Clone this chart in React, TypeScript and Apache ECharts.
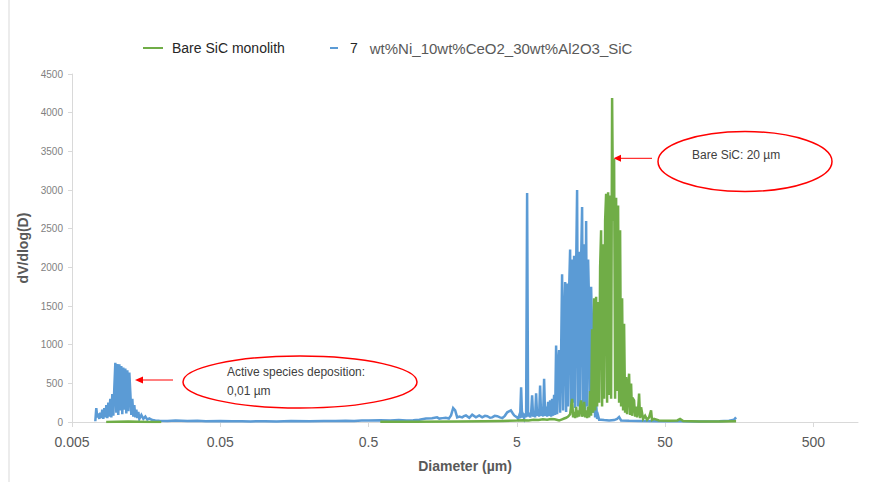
import { useEffect, useRef } from 'react';
import * as echarts from 'echarts';

const FONT = '"Liberation Sans", Arial, sans-serif';

const greenName = 'Bare SiC monolith';
const blueName = '7 wt%Ni_10wt%CeO2_30wt%Al2O3_SiC';

const xTickValues = [0.005, 0.05, 0.5, 5, 50, 500];
const xTickLabels = ['0.005', '0.05', '0.5', '5', '50', '500'];

// Blue series: [diameter (µm), dV/dlog(D)]
const bluePeak = [
  [0.00718, 10], [0.00729, 180], [0.00741, 60], [0.00752, 110], [0.00764, 40], [0.00776, 120],
  [0.00788, 50], [0.008, 160], [0.00813, 40], [0.00826, 180], [0.00839, 60], [0.00852, 220],
  [0.00865, 50], [0.00879, 250], [0.00892, 70], [0.00906, 300], [0.00921, 60], [0.00935, 360],
  [0.0095, 80], [0.00964, 430], [0.0098, 765], [0.00995, 120], [0.01011, 750], [0.01026, 90],
  [0.01043, 745], [0.01059, 150], [0.01075, 725], [0.01092, 100], [0.01109, 705], [0.01127, 160],
  [0.01144, 690], [0.01162, 110], [0.01181, 670], [0.01199, 140], [0.01218, 640], [0.01237, 380],
  [0.01256, 90], [0.01276, 300], [0.01296, 70], [0.01316, 220], [0.01337, 60], [0.01358, 160],
  [0.01379, 50], [0.01401, 130], [0.01423, 40], [0.01468, 90], [0.01514, 40], [0.01562, 70],
  [0.01611, 30], [0.01662, 45], [0.01741, 25], [0.01824, 20], [0.01941, 15],
];
const blueFlat = [
  [0.022, 14], [0.025, 18], [0.03, 12], [0.035, 16], [0.04, 10], [0.05, 12], [0.06, 9], [0.07, 11],
  [0.08, 8], [0.1, 10], [0.12, 8], [0.15, 12], [0.2, 10], [0.25, 14], [0.3, 12], [0.35, 16],
  [0.4, 14], [0.45, 18], [0.5, 20], [0.6, 22], [0.7, 18], [0.8, 25], [0.9, 20], [1.0, 22],
  [1.1, 30], [1.22, 44], [1.34, 48], [1.45, 60], [1.5, 44], [1.58, 50], [1.66, 55], [1.74, 45],
  [1.8, 85], [1.86, 181], [1.92, 150], [1.98, 60], [2.05, 70], [2.14, 60], [2.2, 75], [2.27, 85],
  [2.39, 55], [2.5, 95], [2.65, 60], [2.79, 85], [2.92, 60], [3.05, 80], [3.16, 75], [3.3, 55],
  [3.41, 60], [3.55, 80], [3.69, 75], [3.85, 60], [3.99, 50], [4.15, 80], [4.31, 125], [4.56, 150],
  [4.7, 110], [4.8, 85],
];
const blueCluster = [
  [5.023, 60], [5.102, 40], [5.181, 80], [5.262, 50], [5.345, 450], [5.428, 60], [5.513, 90],
  [5.6, 50], [5.687, 110], [5.776, 60], [5.867, 2960], [5.958, 70], [6.052, 120], [6.146, 60],
  [6.243, 110], [6.34, 345], [6.439, 70], [6.54, 120], [6.643, 60], [6.746, 370], [6.852, 80],
  [6.959, 140], [7.068, 70], [7.179, 470], [7.291, 80], [7.405, 150], [7.521, 70], [7.639, 560],
  [7.758, 80], [7.88, 200], [8.003, 70], [8.128, 260], [8.256, 80], [8.385, 280], [8.516, 70],
  [8.649, 300], [8.785, 80], [8.922, 350], [9.062, 90], [9.204, 990], [9.348, 100], [9.494, 750],
  [9.643, 930], [9.794, 120], [9.947, 900], [10.1, 1910], [10.26, 150], [10.42, 1300], [10.59, 1810],
  [10.75, 130], [10.92, 1790], [11.09, 200], [11.26, 1700], [11.44, 2230], [11.62, 150], [11.8, 2100],
  [11.98, 250], [12.17, 2150], [12.36, 180], [12.56, 2000], [12.75, 3000], [12.95, 200], [13.16, 2200],
  [13.36, 150], [13.57, 2100], [13.78, 2780], [14.0, 220], [14.22, 2300], [14.44, 160], [14.67, 2600],
  [14.9, 200], [15.13, 2100], [15.37, 1500], [15.61, 150], [15.85, 1750], [16.1, 1200], [16.35, 120],
  [16.61, 410], [16.87, 60], [17.13, 240], [17.4, 40], [17.67, 80], [17.95, 30],
];
const blueTail = [
  [18.51, 30], [19.4, 25], [20.96, 20], [22.65, 25], [23.73, 40], [24.48, 65], [25.25, 20],
  [28.59, 15], [33.39, 12], [45.43, 10], [63.1, 10], [84.8, 8], [115.5, 10], [135, 15], [146, 30],
  [150.6, 60],
];

// Green series: [diameter (µm), dV/dlog(D)]
const greenLow = [
  [0.0085, 0], [0.01, 3], [0.012, 5], [0.014, 3], [0.0165, 0], [0.02, 0], [0.03, null],
  [0.6, 2], [0.8, 3], [1.0, 4], [2.0, 6], [3.0, 10], [4.0, 14], [5.0, 18], [5.5, 22], [6.0, 20],
  [6.5, 28], [7.0, 25], [7.5, 35], [8.0, 30], [8.5, 40], [9.0, 35], [9.643, 20],
];
const greenCluster = [
  [9.794, 25], [10.1, 35], [10.42, 45], [10.75, 55], [11.09, 70], [11.44, 100], [11.8, 300],
  [11.98, 60], [12.17, 130], [12.36, 50], [12.56, 195], [12.75, 60], [12.95, 150], [13.16, 70],
  [13.36, 200], [13.57, 280], [13.78, 70], [14.0, 100], [14.22, 260], [14.44, 60], [14.67, 150],
  [14.9, 50], [15.13, 200], [15.37, 60], [15.61, 400], [15.85, 80], [16.1, 1200], [16.35, 120],
  [16.61, 1600], [16.87, 150], [17.13, 1620], [17.4, 200], [17.67, 1550], [17.95, 250], [18.23, 2000],
  [18.51, 2480], [18.8, 200], [19.1, 2300], [19.4, 300], [19.7, 2600], [20.01, 2950], [20.32, 250],
  [20.64, 2970], [20.96, 350], [21.29, 2930], [21.62, 300], [21.96, 4190], [22.3, 2600], [22.65, 3400],
  [23.01, 300], [23.37, 2900], [23.73, 400], [24.1, 2800], [24.48, 250], [24.86, 2480], [25.25, 200],
  [25.65, 1600], [26.05, 150], [26.45, 1270], [26.87, 120], [27.29, 580], [27.71, 100], [28.15, 450],
  [28.59, 625], [29.03, 90], [29.49, 496], [29.95, 80], [30.42, 300], [30.89, 280], [31.38, 70],
  [31.87, 200], [32.37, 60], [32.87, 150], [33.39, 367], [33.9, 50], [34.44, 190], [35.53, 40],
  [36.65, 80], [37.8, 30], [39.0, 60], [40.22, 150], [40.8, 25], [42.14, 40],
];
const greenTail = [
  [45.43, 20], [53.2, 15], [60.5, 20], [63.1, 40], [66.2, 12], [84.8, 8], [115.5, 5], [150.6, 10],
];

const greenData = [...greenLow, ...greenCluster, ...greenTail];
const blueData = [...bluePeak, ...blueFlat, ...blueCluster, ...blueTail];

const GREEN = '#70AD47';
const BLUE = '#5B9BD5';
const RED = '#FF0000';

export default function App() {
  const ref = useRef<HTMLDivElement>(null);
  useEffect(() => {
    document.body.style.margin = '0';
    const chart = echarts.init(ref.current!, null, { renderer: 'svg' });
    const option: any = {
      animation: false,
      backgroundColor: '#ffffff',
      textStyle: { fontFamily: FONT },
      grid: { left: 72, right: 26, top: 74, bottom: 60 },
      legend: [
        {
          data: [greenName],
          left: 143,
          top: 39,
          padding: 0,
          icon: 'rect',
          itemWidth: 20,
          itemHeight: 2,
          textStyle: { fontSize: 14, color: '#262626', fontFamily: FONT, padding: [0, 0, 0, 4], lineHeight: 18 },
        },
        {
          data: [blueName],
          left: 330,
          top: 39,
          padding: 0,
          icon: 'rect',
          itemWidth: 8,
          itemHeight: 2,
          formatter: (name: string) => {
            const i = name.indexOf(' ');
            return `{a|${name.slice(0, i)}}{b|${name.slice(i + 1)}}`;
          },
          textStyle: {
            fontFamily: FONT,
            padding: [0, 0, 0, 7],
            lineHeight: 18,
            rich: {
              a: { fontSize: 14, color: '#262626', fontFamily: FONT, padding: [0, 12, 0, 0], lineHeight: 18 },
              b: { fontSize: 15, color: '#595959', fontFamily: FONT, lineHeight: 18 },
            },
          },
        },
      ],
      xAxis: {
        type: 'log',
        logBase: 10,
        min: 0.005,
        max: 1000,
        name: 'Diameter (µm)',
        nameLocation: 'middle',
        nameGap: 37,
        nameTextStyle: { fontSize: 14, fontWeight: 'bold', color: '#595959', fontFamily: FONT },
        axisLine: { show: true, onZero: false, lineStyle: { color: '#d9d9d9', width: 1 } },
        axisTick: { show: true, length: 5, customValues: xTickValues, lineStyle: { color: '#d9d9d9' } },
        axisLabel: {
          fontSize: 14,
          color: '#595959',
          margin: 13,
          customValues: xTickValues,
          formatter: (v: number) => {
            const i = xTickValues.findIndex((t) => Math.abs(Math.log10(t) - Math.log10(v)) < 0.01);
            return i >= 0 ? xTickLabels[i] : '';
          },
        },
        splitLine: { show: false },
        minorTick: { show: false },
      },
      yAxis: {
        type: 'value',
        min: 0,
        max: 4500,
        interval: 500,
        name: 'dV/dlog(D)',
        nameLocation: 'middle',
        nameGap: 42,
        nameTextStyle: { fontSize: 14, fontWeight: 'bold', color: '#595959', fontFamily: FONT },
        axisLine: { show: true, onZero: false, lineStyle: { color: '#d9d9d9', width: 1 } },
        axisTick: { show: true, length: 4, lineStyle: { color: '#d9d9d9' } },
        axisLabel: { fontSize: 10, color: '#7f7f7f', margin: 9, formatter: (v: number) => String(v) },
        splitLine: { show: false },
      },
      series: [
        {
          name: blueName,
          type: 'line',
          data: blueData,
          symbol: 'none',
          z: 2,
          lineStyle: { color: BLUE, width: 2.5, join: 'miter' },
          itemStyle: { color: BLUE },
          connectNulls: false,
        },
        {
          name: greenName,
          type: 'line',
          data: greenData,
          symbol: 'none',
          z: 3,
          lineStyle: { color: GREEN, width: 2.5, join: 'miter' },
          itemStyle: { color: GREEN },
          connectNulls: false,
        },
      ],
      graphic: [
        { type: 'line', shape: { x1: 9, y1: 0, x2: 9, y2: 482 }, style: { stroke: '#d9d9d9', lineWidth: 1 }, silent: true },
        {
          type: 'ellipse',
          shape: { cx: 745, cy: 161.5, rx: 87, ry: 30 },
          style: { fill: 'none', stroke: RED, lineWidth: 1.5 },
        },
        {
          type: 'text',
          x: 692,
          y: 155,
          style: { text: 'Bare SiC: 20 µm', fontSize: 12, fontFamily: FONT, fill: '#404040', verticalAlign: 'middle' },
        },
        { type: 'line', shape: { x1: 652, y1: 158.3, x2: 620, y2: 158.3 }, style: { stroke: RED, lineWidth: 1 } },
        {
          type: 'polygon',
          shape: { points: [[613.5, 158.3], [621, 154.8], [621, 161.8]] },
          style: { fill: RED },
        },
        {
          type: 'ellipse',
          shape: { cx: 300, cy: 382, rx: 117, ry: 26 },
          style: { fill: 'none', stroke: RED, lineWidth: 1.5 },
        },
        {
          type: 'text',
          x: 227,
          y: 372,
          style: { text: 'Active species deposition:', fontSize: 12, fontFamily: FONT, fill: '#404040', verticalAlign: 'middle' },
        },
        {
          type: 'text',
          x: 227,
          y: 391,
          style: { text: '0,01 µm', fontSize: 12, fontFamily: FONT, fill: '#404040', verticalAlign: 'middle' },
        },
        { type: 'line', shape: { x1: 173, y1: 380, x2: 142, y2: 380 }, style: { stroke: RED, lineWidth: 1 } },
        {
          type: 'polygon',
          shape: { points: [[135, 380], [143, 376.5], [143, 383.5]] },
          style: { fill: RED },
        },
      ],
    };
    chart.setOption(option);
    return () => chart.dispose();
  }, []);
  return (
    <div
      ref={ref}
      style={{ position: 'fixed', left: 0, top: 0, width: 884, height: 482, background: '#fff' }}
    />
  );
}
